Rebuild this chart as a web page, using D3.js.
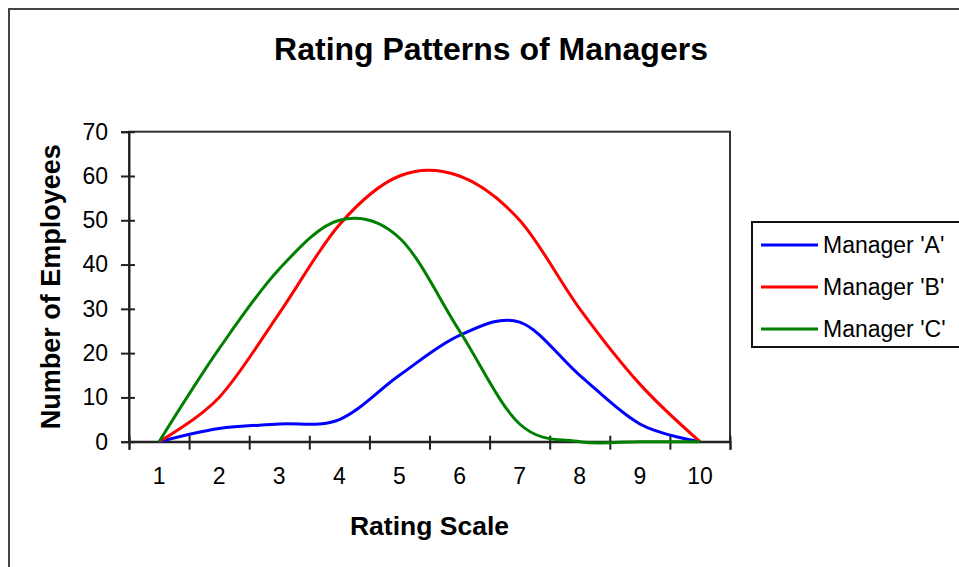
<!DOCTYPE html>
<html>
<head>
<meta charset="utf-8">
<script src="https://cdn.jsdelivr.net/npm/d3@7"></script>
<style>
  html, body { margin: 0; padding: 0; background: #fff; }
  svg { display: block; font-family: "Liberation Sans", Arial, sans-serif; }
</style>
</head>
<body>
<svg id="chart" width="959" height="567"></svg>
<script>
// ---- data ----
const categories = ["1", "2", "3", "4", "5", "6", "7", "8", "9", "10"];
const managerA = [0, 3, 4, 5, 15, 24, 27, 15, 4, 0];
const managerB = [0, 10, 29, 49, 60, 60, 50, 30, 13, 0];
const managerC = [0, 21, 39, 50, 46, 25, 4, 0, 0, 0];
const seriesNames = ["Manager 'A'", "Manager 'B'", "Manager 'C'"];
const seriesColors = ["#0000FF", "#FF0000", "#008000"];
const yTicks = [0, 10, 20, 30, 40, 50, 60, 70];
const chartTitle = "Rating Patterns of Managers";
const xTitle = "Rating Scale";
const yTitle = "Number of Employees";

const series = [managerA, managerB, managerC].map((vals, i) => ({
  name: seriesNames[i], color: seriesColors[i],
  values: vals.map((v, j) => ({ cat: categories[j], v }))
}));

// ---- layout ----
const svg = d3.select("#chart");
const plot = { left: 129, right: 730, top: 131.7, bottom: 441.7 };

// outer chart border (extends past right/bottom edges)
svg.append("rect")
  .attr("x", 9).attr("y", 9).attr("width", 1000).attr("height", 1000)
  .attr("fill", "#fff").attr("stroke", "#444").attr("stroke-width", 2);

const x = d3.scaleBand().domain(categories).range([plot.left, plot.right]).padding(0);
const xEdge = d3.scaleLinear().domain([0, categories.length]).range([plot.left, plot.right]);
const y = d3.scaleLinear().domain([0, 70]).range([plot.bottom, plot.top]);

// plot area frame
svg.append("rect")
  .attr("x", plot.left).attr("y", plot.top)
  .attr("width", plot.right - plot.left).attr("height", plot.bottom - plot.top)
  .attr("fill", "none").attr("stroke", "#333").attr("stroke-width", 2);

// Y axis
const yAxis = svg.append("g")
  .attr("transform", `translate(${plot.left},0)`)
  .call(d3.axisLeft(y).tickValues(yTicks).tickSize(8).tickPadding(13).tickFormat(d3.format("d")));
yAxis.select(".domain").attr("stroke", "#222").attr("stroke-width", 2);
yAxis.selectAll(".tick line").attr("x1", 6).attr("stroke", "#222").attr("stroke-width", 2);
yAxis.selectAll(".tick text").attr("font-size", 23).attr("fill", "#000")
  .attr("font-family", "'Liberation Sans', Arial, sans-serif");

// X axis: tick marks at category boundaries
const xTickAxis = svg.append("g")
  .attr("transform", `translate(0,${plot.bottom})`)
  .call(d3.axisBottom(xEdge).tickValues(d3.range(categories.length + 1)).tickSize(8).tickFormat(""));
xTickAxis.select(".domain").attr("stroke", "#222").attr("stroke-width", 2);
xTickAxis.selectAll(".tick line").attr("y1", -6).attr("stroke", "#222").attr("stroke-width", 2);

// X axis labels at category centers
const xLabelAxis = svg.append("g")
  .attr("transform", `translate(0,${plot.bottom})`)
  .call(d3.axisBottom(x).tickSize(0).tickPadding(26));
xLabelAxis.select(".domain").remove();
xLabelAxis.selectAll(".tick text").attr("font-size", 23).attr("fill", "#000")
  .attr("font-family", "'Liberation Sans', Arial, sans-serif");

// Lines
const line = d3.line()
  .x(d => x(d.cat) + x.bandwidth() / 2)
  .y(d => y(d.v))
  .curve(d3.curveCardinal.tension(0));

svg.append("g").selectAll("path")
  .data(series)
  .join("path")
  .attr("d", d => line(d.values))
  .attr("fill", "none")
  .attr("stroke", d => d.color)
  .attr("stroke-width", 3)
  .attr("stroke-linejoin", "round");

// Titles
svg.append("text")
  .attr("x", 491).attr("y", 60)
  .attr("text-anchor", "middle")
  .attr("font-size", 32).attr("font-weight", "bold").attr("fill", "#000")
  .text(chartTitle);

svg.append("text")
  .attr("x", (plot.left + plot.right) / 2).attr("y", 535)
  .attr("text-anchor", "middle")
  .attr("font-size", 26.5).attr("font-weight", "bold").attr("fill", "#000")
  .text(xTitle);

svg.append("text")
  .attr("transform", `translate(60,${(plot.top + plot.bottom) / 2}) rotate(-90)`)
  .attr("text-anchor", "middle")
  .attr("font-size", 27).attr("font-weight", "bold").attr("fill", "#000")
  .text(yTitle);

// Legend
const legend = svg.append("g");
legend.append("rect")
  .attr("x", 752).attr("y", 222).attr("width", 300).attr("height", 125)
  .attr("fill", "#fff").attr("stroke", "#111").attr("stroke-width", 2);

const legendY = d3.scalePoint().domain(seriesNames).range([245, 329]);
const items = legend.selectAll("g.item").data(series).join("g").attr("class", "item")
  .attr("transform", d => `translate(0,${legendY(d.name)})`);
items.append("line")
  .attr("x1", 761).attr("x2", 818).attr("y1", 0).attr("y2", 0)
  .attr("stroke", d => d.color).attr("stroke-width", 3);
items.append("text")
  .attr("x", 823).attr("y", 8)
  .attr("font-size", 23).attr("fill", "#000")
  .text(d => d.name);
</script>
</body>
</html>
